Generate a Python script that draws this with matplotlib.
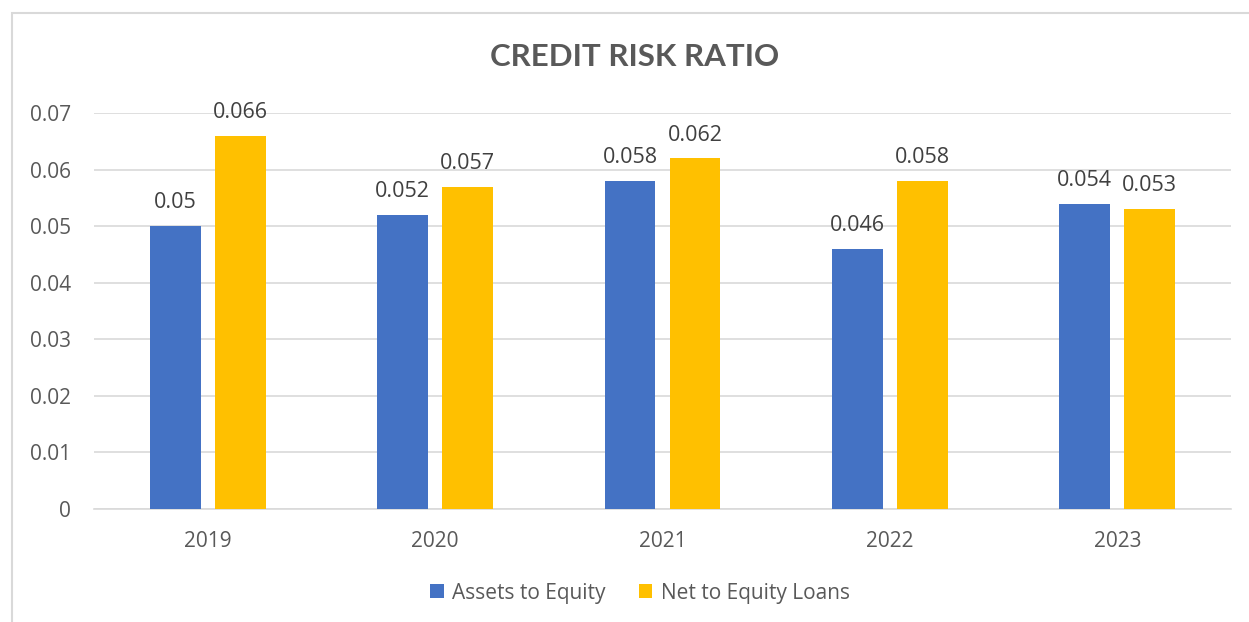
import matplotlib.pyplot as plt
import numpy as np
from matplotlib.patches import Rectangle

years = ['2019', '2020', '2021', '2022', '2023']
assets_to_equity = [0.05, 0.052, 0.058, 0.046, 0.054]
net_to_equity_loans = [0.066, 0.057, 0.062, 0.058, 0.053]
yticks = [0, 0.01, 0.02, 0.03, 0.04, 0.05, 0.06, 0.07]
ytick_labels = ['0', '0.01', '0.02', '0.03', '0.04', '0.05', '0.06', '0.07']

plt.rcParams['font.family'] = ['Open Sans', 'DejaVu Sans']

W, H = 1249, 622
fig = plt.figure(figsize=(W / 100, H / 100), dpi=100)

# chart border, runs off the right and bottom edge
fig.patches.append(Rectangle((12 / W, -0.2), 1.0, 1.2 - 13 / H, transform=fig.transFigure,
                             fill=False, edgecolor='#d9d9d9', linewidth=1.5))

ax = fig.add_axes([94 / W, 1 - 509 / H, (1231 - 94) / W, (509 - 113) / H])

x = np.arange(len(years))
width = 0.224
off = 0.143
b1 = ax.bar(x - off, assets_to_equity, width, color='#4472c4', label='Assets to Equity', zorder=3)
b2 = ax.bar(x + off, net_to_equity_loans, width, color='#ffc000', label='Net to Equity Loans', zorder=3)

for bars, vals in [(b1, assets_to_equity), (b2, net_to_equity_loans)]:
    for rect, v in zip(bars, vals):
        ax.text(rect.get_x() + rect.get_width() / 2, v + 0.0041, f'{v:g}',
                ha='center', va='center', fontsize=15.5, color='#404040')

ax.set_xlim(-0.5, 4.5)
ax.set_ylim(0, 0.07)
ax.set_yticks(yticks)
ax.set_yticklabels(ytick_labels)
ax.set_xticks(x)
ax.set_xticklabels(years)
ax.tick_params(axis='both', length=0, labelsize=15, labelcolor='#595959')
ax.tick_params(axis='y', pad=16.5)
ax.tick_params(axis='x', pad=16)
ax.grid(axis='y', color='#d9d9d9', linewidth=1.2, zorder=0)
for s in ['top', 'right', 'left']:
    ax.spines[s].set_visible(False)
ax.spines['bottom'].set_color('#d9d9d9')
ax.spines['bottom'].set_linewidth(1.2)

fig.text(635 / W, 1 - 57 / H, 'CREDIT RISK RATIO', ha='center', va='center',
         fontsize=22.5, fontweight='bold', color='#595959', family=['Lato', 'DejaVu Sans'])

fig.legend(loc='center', bbox_to_anchor=(640 / W, 1 - 593 / H), ncol=2, frameon=False,
           fontsize=15, labelcolor='#595959', handlelength=0.65, handleheight=0.65,
           handletextpad=0.4, columnspacing=1.6)

fig.savefig('out.png', dpi=100)
